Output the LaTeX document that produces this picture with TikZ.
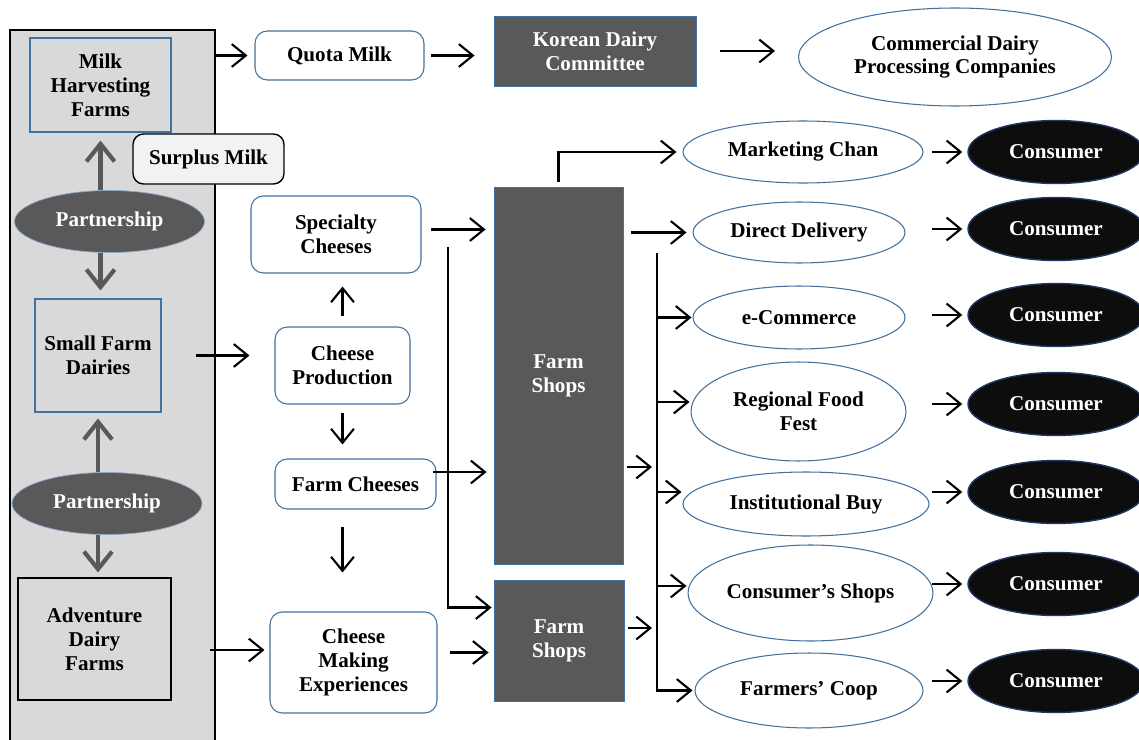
\documentclass[tikz,border=0pt]{standalone}
\usepackage{fontspec}
\setmainfont{Liberation Serif}
\usetikzlibrary{shapes.geometric,arrows.meta}
\definecolor{edgeblue}{RGB}{65,113,156}
\definecolor{panelgray}{RGB}{217,217,217}
\definecolor{darkfill}{RGB}{89,89,89}
\definecolor{lightblue}{RGB}{140,165,200}
\definecolor{conblue}{RGB}{31,56,100}
\begin{document}
\begin{tikzpicture}[x=0.02cm, y=-0.02cm,
  every node/.style={font=\bfseries\fontsize{12}{13.6}\selectfont, align=center, inner sep=1pt},
  farm/.style={draw=edgeblue, fill=panelgray, line width=0.6pt},
  rbox/.style={draw=edgeblue, fill=white, rounded corners=7pt, line width=0.6pt},
  dark/.style={draw=edgeblue, fill=darkfill, text=white, line width=0.5pt},
  oval/.style={ellipse, draw=edgeblue, fill=white, line width=0.6pt},
  partner/.style={ellipse, draw=lightblue, fill=darkfill, text=white,
    minimum width=3.8cm, minimum height=1.24cm},
  consumer/.style={ellipse, draw=conblue, fill=black!95, text=white, line width=0.8pt,
    minimum width=3.52cm, minimum height=1.26cm},
  arr/.style={line width=1.2pt, -{Straight Barb[length=8pt,width=13pt]}},
  garr/.style={draw=darkfill, line width=2.4pt, -{Straight Barb[length=10pt,width=16pt]}}]
  \useasboundingbox (0,0) rectangle (1139,740);

  \node[draw, line width=1.2pt, fill=panelgray, minimum width=4.1cm, minimum height=14.6cm] (panel) at (112.5,395) {};
  \node[farm, minimum width=2.82cm, minimum height=1.88cm] (mhf) at (100.5,85) {Milk\\Harvesting\\Farms};
  \node[draw, fill=black!5, rounded corners=6pt, line width=0.8pt, minimum width=3.02cm, minimum height=1cm] (surplus) at (208.5,159) {Surplus Milk};
  \node[partner] (part1) at (109.5,221.5) {Partnership};
  \node[farm, minimum width=2.52cm, minimum height=2.26cm] (sfd) at (98,355.5) {Small Farm\\Dairies};
  \node[partner] (part2) at (107,503.5) {Partnership};
  \node[farm, draw=black, minimum width=3.06cm, minimum height=2.44cm] (adf) at (94.5,639) {Adventure\\Dairy\\Farms};

  \node[rbox, minimum width=3.38cm, minimum height=0.98cm] (quota) at (339.5,55.5) {Quota Milk};
  \node[dark, minimum width=4.04cm, minimum height=1.4cm] (kdc) at (595,51) {Korean Dairy\\Committee};
  \node[oval, minimum width=6.26cm, minimum height=1.96cm] (cdpc) at (955,57) {Commercial Dairy\\Processing Companies};

  \node[rbox, minimum width=3.4cm, minimum height=1.54cm] (spec) at (336,234.5) {Specialty\\Cheeses};
  \node[rbox, minimum width=2.7cm, minimum height=1.54cm] (prod) at (342.5,365.5) {Cheese\\Production};
  \node[rbox, minimum width=3.22cm, minimum height=1cm] (fcheese) at (355.5,484) {Farm Cheeses};
  \node[rbox, minimum width=3.34cm, minimum height=2.02cm] (cme) at (353.5,662.5) {Cheese\\Making\\Experiences};
  \node[dark, minimum width=2.58cm, minimum height=7.54cm] (shops) at (558.5,375.5) {Farm\\Shops};
  \node[dark, minimum width=2.6cm, minimum height=2.42cm] (shops2) at (559,640.5) {Farm\\Shops};

  \node[oval, minimum width=4.8cm, minimum height=1.24cm] (mkt) at (803,152) {Marketing Chan};
  \node[oval, minimum width=4.24cm, minimum height=1.22cm] (dd) at (799,232.5) {Direct Delivery};
  \node[oval, minimum width=4.24cm, minimum height=1.26cm] (ecom) at (799,317.5) {e-Commerce};
  \node[oval, minimum width=4.3cm, minimum height=1.98cm] (rff) at (798.5,411.5) {Regional Food\\Fest};
  \node[oval, minimum width=4.92cm, minimum height=1.28cm] (inst) at (806,504) {Institutional Buy};
  \node[oval, minimum width=4.9cm, minimum height=1.92cm] (cshops) at (810.5,593) {Consumer’s Shops};
  \node[oval, minimum width=4.56cm, minimum height=1.5cm] (coop) at (809,690.5) {Farmers’ Coop};

  \foreach \y [count=\i] in {152,229,315,404,492,584,681}
    \node[consumer] (con\i) at (1056,\y) {Consumer};

  \draw[garr, shorten >=0.16cm] (part1.north -| mhf.south) -- (mhf.south);
  \draw[garr, shorten >=0.16cm] (part1.south -| mhf.south) -- (mhf.south |- sfd.north);
  \draw[garr, shorten >=0.12cm] (part2.north -| sfd.south) -- (sfd.south);
  \draw[garr, shorten >=0.1cm] (part2.south -| sfd.south) -- (sfd.south |- adf.north);

  \draw[arr, shorten >=0.14cm] (panel.east |- quota.west) -- (quota.west);
  \draw[arr, shorten <=0.12cm, shorten >=0.38cm] (quota.east) -- (quota.east -| kdc.west);
  \draw[arr, shorten <=0.48cm, shorten >=0.46cm] (kdc.east) -- (kdc.east -| cdpc.west);

  \draw[arr, shorten <=0.68cm, shorten >=0.5cm] (sfd.east) -- (sfd.east -| prod.west);
  \coordinate (adfout) at ([yshift=-0.22cm]adf.east);
  \draw[arr, shorten <=0.76cm, shorten >=0.1cm] (adfout) -- (adfout -| cme.west);
  \draw[arr, shorten <=0.2cm, shorten >=0.26cm] (prod.north) -- (prod.north |- spec.south);
  \draw[arr, shorten <=0.16cm, shorten >=0.28cm] (prod.south) -- (prod.south |- fcheese.north);
  \draw[arr, shorten <=0.34cm, shorten >=0.78cm] (prod.south |- fcheese.south) -- (prod.south |- cme.north);

  \coordinate (specout) at ([yshift=0.1cm]spec.east);
  \draw[arr, shorten <=0.18cm, shorten >=0.16cm] (specout) -- (specout -| shops.west);
  \coordinate (split) at (448,247);
  \coordinate (shops2in) at ([yshift=0.66cm]shops2.west);
  \draw[arr, shorten >=0.04cm] (split) |- (shops2in);
  \coordinate (fcout) at ([yshift=0.24cm]fcheese.east);
  \draw[arr, shorten <=-0.08cm, shorten >=0.14cm] (fcout) -- (fcout -| shops.west);
  \coordinate (cmeout) at ([yshift=0.2cm]cme.east);
  \draw[arr, shorten <=0.24cm, shorten >=0.1cm] (cmeout) -- (cmeout -| shops2.west);

  \draw[arr, shorten <=0.1cm, shorten >=0.12cm] (shops.north) |- (mkt.west);
  \draw[arr, shorten <=0.16cm, shorten >=0.12cm] (shops.east |- dd.west) -- (dd.west);
  \coordinate (bus) at (657,253);
  \draw[arr, shorten >=0.04cm] (bus) |- (coop.west);
  \foreach \n/\s in {ecom/0, rff/0.19, inst/0.24, cshops/0.14}{
    \coordinate (tip) at ([yshift=\s cm]\n.west);
    \draw[arr, shorten >=0.02cm] (bus |- tip) -- (tip);
  }
  \coordinate (s1out) at ([yshift=-1.83cm]shops.east);
  \draw[arr, shorten <=0.08cm, shorten >=0.1cm] (s1out) -- (s1out -| bus);
  \coordinate (s2out) at ([yshift=0.25cm]shops2.east);
  \draw[arr, shorten <=0.08cm, shorten >=0.1cm] (s2out) -- (s2out -| bus);

  \foreach \i in {1,...,7}
    \draw[arr] ([xshift=-0.7cm]con\i.west) -- ([xshift=-0.1cm]con\i.west);
\end{tikzpicture}
\end{document}
